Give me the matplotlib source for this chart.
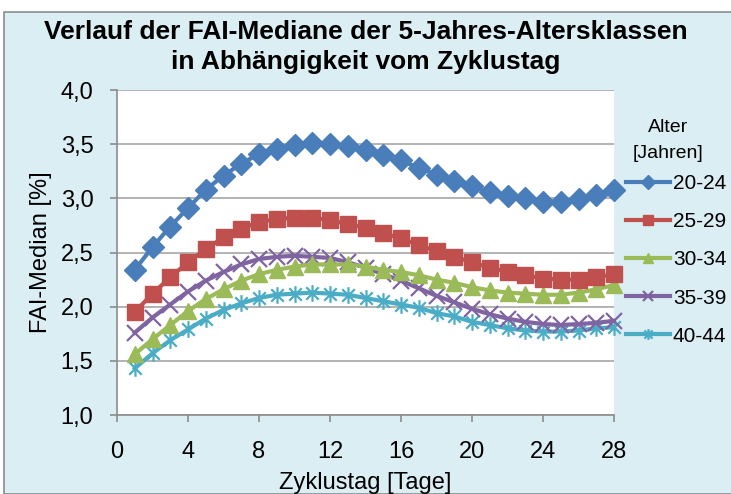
import matplotlib
matplotlib.use("Agg")
import matplotlib.pyplot as plt
from matplotlib.path import Path
from matplotlib.patches import Rectangle
from matplotlib.ticker import FuncFormatter, MultipleLocator

plt.rcParams['font.family'] = ['Liberation Sans', 'DejaVu Sans']

days = list(range(1, 29))
labels = ["20-24", "25-29", "30-34", "35-39", "40-44"]
s20 = [2.34, 2.55, 2.74, 2.91, 3.08, 3.21, 3.32, 3.41, 3.46, 3.49, 3.51, 3.50, 3.48, 3.45,
       3.40, 3.35, 3.28, 3.22, 3.16, 3.11, 3.06, 3.02, 3.00, 2.97, 2.97, 2.99, 3.03, 3.08]
s25 = [1.95, 2.12, 2.27, 2.41, 2.53, 2.64, 2.72, 2.78, 2.81, 2.82, 2.82, 2.80, 2.76, 2.73,
       2.68, 2.63, 2.57, 2.51, 2.46, 2.41, 2.36, 2.32, 2.29, 2.26, 2.25, 2.25, 2.27, 2.30]
s30 = [1.56, 1.70, 1.83, 1.96, 2.07, 2.16, 2.24, 2.30, 2.34, 2.37, 2.39, 2.39, 2.39, 2.37,
       2.34, 2.32, 2.29, 2.25, 2.22, 2.18, 2.15, 2.13, 2.12, 2.11, 2.11, 2.13, 2.16, 2.20]
s35 = [1.76, 1.90, 2.02, 2.14, 2.24, 2.32, 2.39, 2.44, 2.46, 2.47, 2.46, 2.45, 2.41, 2.36,
       2.30, 2.24, 2.17, 2.10, 2.04, 1.98, 1.93, 1.89, 1.86, 1.84, 1.83, 1.84, 1.85, 1.87]
s40 = [1.43, 1.57, 1.69, 1.79, 1.89, 1.97, 2.03, 2.08, 2.11, 2.12, 2.13, 2.12, 2.11, 2.08,
       2.05, 2.02, 1.99, 1.94, 1.91, 1.86, 1.83, 1.80, 1.78, 1.77, 1.77, 1.78, 1.80, 1.81]
series = [s20, s25, s30, s35, s40]
colors = ["#4A7EBB", "#C0504D", "#9BBB59", "#8064A2", "#4BACC6"]

star = Path([(0, -1), (0, 1), (-0.75, -0.75), (0.75, 0.75), (-0.75, 0.75), (0.75, -0.75)],
            [Path.MOVETO, Path.LINETO, Path.MOVETO, Path.LINETO, Path.MOVETO, Path.LINETO])
markers = ["D", "s", "^", "x", star]
msizes = [11, 11, 12, 12, 12]
mews = [1, 1, 1, 1.6, 1.6]

W, H = 731, 494
fig = plt.figure(figsize=(W / 100, H / 100), dpi=100)
fig.patch.set_facecolor("white")
bg = Rectangle((4 / W, 0), 1, 1 - 12 / H, transform=fig.transFigure, facecolor="#DBEEF4",
               edgecolor="#8C8C8C", linewidth=1.2, zorder=-10)
fig.patches.append(bg)

ax = fig.add_axes([117 / W, 1 - 415 / H, (614 - 117) / W, (415 - 90) / H], zorder=1)
ax.set_facecolor("white")
for i, (vals, lab) in enumerate(zip(series, labels)):
    ax.plot(days, vals, color=colors[i], lw=3, marker=markers[i], ms=msizes[i],
            mew=mews[i], mec=colors[i], mfc=colors[i], label=lab, clip_on=False, zorder=3 + (4 - i) * 0.1)

ax.set_xlim(0, 28)
ax.set_ylim(1.0, 4.0)
ax.xaxis.set_major_locator(MultipleLocator(4))
ax.yaxis.set_major_locator(MultipleLocator(0.5))
ax.yaxis.set_major_formatter(FuncFormatter(lambda v, p: f"{v:.1f}".replace(".", ",")))
ax.grid(axis="y", color="#A6A6A6", lw=1.2)
ax.set_axisbelow(True)
for s in ["top", "right"]:
    ax.spines[s].set_visible(False)
for s in ["left", "bottom"]:
    ax.spines[s].set_color("#8C8C8C")
    ax.spines[s].set_linewidth(1.2)
ax.tick_params(axis="both", colors="#8C8C8C", length=5, width=1.2, labelsize=17,
               labelcolor="black", pad=12)
ax.tick_params(axis="x", pad=14)
ax.set_xlabel("Zyklustag [Tage]", fontsize=17, labelpad=6)
ax.set_ylabel("FAI-Median [%]", fontsize=17, labelpad=6)

fig.text(0.5, 1 - 32 / H, "Verlauf der FAI-Mediane der 5-Jahres-Altersklassen", ha="center",
         va="center", fontsize=19, fontweight="bold")
fig.text(0.5, 1 - 62 / H, "in Abhängigkeit vom Zyklustag", ha="center",
         va="center", fontsize=19, fontweight="bold")

fig.text(668 / W, 1 - 128 / H, "Alter", ha="center", va="center", fontsize=14)
fig.text(668 / W, 1 - 154 / H, "[Jahren]", ha="center", va="center", fontsize=14)
leg = ax.legend(loc="upper left", bbox_to_anchor=(626 / W, 1 - 174 / H), bbox_transform=fig.transFigure,
                frameon=False, fontsize=15,
                handlelength=2.1, handletextpad=0.15, labelspacing=0.92, markerscale=0.65,
                borderpad=0, borderaxespad=0)

fig.savefig("out.png", dpi=100)
